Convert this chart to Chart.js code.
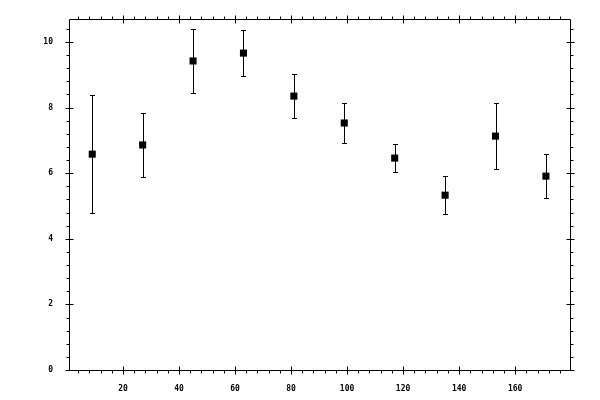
<!DOCTYPE html>
<html>
<head>
<meta charset="utf-8">
<script src="https://cdn.jsdelivr.net/npm/chart.js@4"></script>
<style>
  body { margin: 0; background: #fff; }
  canvas { display: block; }
</style>
</head>
<body>
<canvas id="plot" width="600" height="400"></canvas>
<script>
// 數據
const xValues = [9, 27, 45, 63, 81, 99, 117, 135, 153, 171];
const yValues = [6.58, 6.86, 9.42, 9.66, 8.35, 7.53, 6.46, 5.33, 7.13, 5.91];
const yErrors = [1.79, 0.97, 0.97, 0.71, 0.67, 0.62, 0.43, 0.58, 1.0, 0.67];

// 刻度
const xMajorTicks = [20, 40, 60, 80, 100, 120, 140, 160];
const xMinorTicks = [4, 8, 12, 16, 24, 28, 32, 36, 44, 48, 52, 56, 64, 68, 72, 76, 84, 88, 92, 96,
                     104, 108, 112, 116, 124, 128, 132, 136, 144, 148, 152, 156, 164, 168, 172, 176];
const yMajorTicks = [0, 2, 4, 6, 8, 10];
const yMinorTicks = [0.4, 0.8, 1.2, 1.6, 2.4, 2.8, 3.2, 3.6, 4.4, 4.8, 5.2, 5.6,
                     6.4, 6.8, 7.2, 7.6, 8.4, 8.8, 9.2, 9.6, 10.4];

const points = xValues.map((x, i) => ({ x: x, y: yValues[i] }));

// 誤差棒
const errorBarPlugin = {
    id: 'errorBars',
    beforeDatasetsDraw(chart) {
        const ctx = chart.ctx;
        const xs = chart.scales.x;
        const ys = chart.scales.y;
        ctx.save();
        ctx.strokeStyle = '#000';
        ctx.lineWidth = 1;
        xValues.forEach((xv, i) => {
            const px = Math.round(xs.getPixelForValue(xv)) + 0.5;
            const top = Math.round(ys.getPixelForValue(yValues[i] + yErrors[i])) + 0.5;
            const bot = Math.round(ys.getPixelForValue(yValues[i] - yErrors[i])) + 0.5;
            ctx.beginPath();
            ctx.moveTo(px, top);
            ctx.lineTo(px, bot);
            ctx.moveTo(px - 2.5, top);
            ctx.lineTo(px + 2.5, top);
            ctx.moveTo(px - 2.5, bot);
            ctx.lineTo(px + 2.5, bot);
            ctx.stroke();
        });
        ctx.restore();
    }
};

// 邊框和刻度線
const framePlugin = {
    id: 'frame',
    afterDraw(chart) {
        const ctx = chart.ctx;
        const a = chart.chartArea;
        const xs = chart.scales.x;
        const ys = chart.scales.y;
        const L = Math.round(a.left) + 0.5, R = Math.round(a.right) + 0.5;
        const T = Math.round(a.top) + 0.5, B = Math.round(a.bottom) + 0.5;
        ctx.save();
        ctx.strokeStyle = '#000';
        ctx.lineWidth = 1;
        ctx.beginPath();
        ctx.rect(L, T, R - L, B - T);

        xMajorTicks.forEach(v => {
            const p = Math.round(xs.getPixelForValue(v)) + 0.5;
            ctx.moveTo(p, B - 4); ctx.lineTo(p, B + 4);
            ctx.moveTo(p, T - 4); ctx.lineTo(p, T + 4);
        });
        xMinorTicks.forEach(v => {
            const p = Math.round(xs.getPixelForValue(v)) + 0.5;
            ctx.moveTo(p, B); ctx.lineTo(p, B + 3);
            ctx.moveTo(p, T); ctx.lineTo(p, T - 3);
        });
        yMajorTicks.forEach(v => {
            const p = Math.round(ys.getPixelForValue(v)) + 0.5;
            ctx.moveTo(L - 4, p); ctx.lineTo(L + 4, p);
            ctx.moveTo(R - 4, p); ctx.lineTo(R + 4, p);
        });
        yMinorTicks.forEach(v => {
            const p = Math.round(ys.getPixelForValue(v)) + 0.5;
            ctx.moveTo(L, p); ctx.lineTo(L - 3, p);
            ctx.moveTo(R, p); ctx.lineTo(R + 3, p);
        });
        ctx.stroke();
        ctx.restore();
    }
};

const tickFont = { family: 'DejaVu Sans Mono', size: 8, weight: 'bold' };

new Chart(document.getElementById('plot'), {
    type: 'scatter',
    data: {
        datasets: [{
            data: points,
            pointStyle: 'rect',
            pointRadius: 5,
            pointBorderWidth: 0,
            backgroundColor: '#000',
            borderColor: '#000'
        }]
    },
    options: {
        responsive: false,
        animation: false,
        devicePixelRatio: 1,
        layout: { padding: { top: 19, right: 30, left: 0, bottom: 0 } },
        plugins: {
            legend: { display: false },
            tooltip: { enabled: false }
        },
        scales: {
            x: {
                type: 'linear',
                position: 'bottom',
                min: 0.7,
                max: 179.6,
                afterFit(s) { s.height = 30; },
                grid: { display: false },
                border: { display: false },
                ticks: {
                    stepSize: 20,
                    includeBounds: false,
                    color: '#000',
                    font: tickFont,
                    padding: 6,
                    maxRotation: 0
                }
            },
            y: {
                type: 'linear',
                position: 'left',
                min: 0,
                max: 10.7,
                afterFit(s) { s.width = 69; },
                grid: { display: false },
                border: { display: false },
                ticks: {
                    stepSize: 2,
                    includeBounds: false,
                    color: '#000',
                    font: tickFont,
                    padding: 8
                }
            }
        }
    },
    plugins: [errorBarPlugin, framePlugin]
});
</script>
</body>
</html>
